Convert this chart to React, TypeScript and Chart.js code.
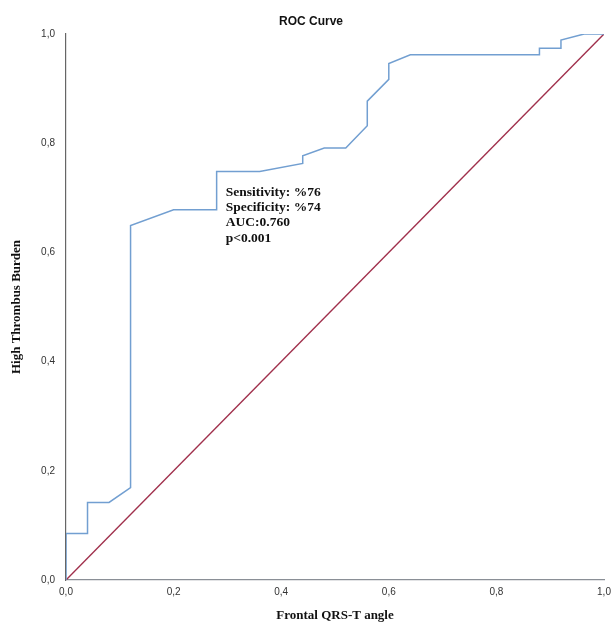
import React, { useEffect, useRef } from "react";
import { Chart, registerables } from "chart.js";

Chart.register(...registerables);

// ROC curve (1 - specificity, sensitivity)
const rocFpr = [0, 0, 0.04, 0.04, 0.08, 0.12, 0.12, 0.2, 0.28, 0.28, 0.36, 0.44, 0.44, 0.48, 0.52, 0.56, 0.56, 0.6, 0.6, 0.64, 0.88, 0.88, 0.92, 0.92, 0.963, 1.0];
const rocTpr = [0, 0.085, 0.085, 0.142, 0.142, 0.169, 0.649, 0.678, 0.678, 0.748, 0.748, 0.763, 0.777, 0.791, 0.791, 0.832, 0.877, 0.917, 0.946, 0.962, 0.962, 0.974, 0.974, 0.989, 1.0, 1.0];

// Reference line
const refX = [0, 1];
const refY = [0, 1];

const tickValues = [0, 0.2, 0.4, 0.6, 0.8, 1.0];
const tickLabels = ["0,0", "0,2", "0,4", "0,6", "0,8", "1,0"];

const annotationLines = ["Sensitivity: %76", "Specificity: %74", "AUC:0.760", "p<0.001"];
const annotationAnchor = { x: 0.297, y: 0.71 };

const chartTitle = "ROC Curve";
const xTitle = "Frontal QRS-T angle";
const yTitle = "High Thrombus Burden";

function fmtTick(v: number) {
  const i = tickValues.findIndex((t) => Math.abs(t - v) < 1e-6);
  return i >= 0 ? tickLabels[i] : "";
}

const overlayPlugin = {
  id: "overlay",
  afterDatasetsDraw(chart: any) {
    const { ctx, chartArea, scales } = chart;
    ctx.save();
    // title
    ctx.fillStyle = "#111";
    ctx.font = "bold 12px 'Liberation Sans', Arial, sans-serif";
    ctx.textAlign = "center";
    ctx.textBaseline = "middle";
    ctx.fillText(chartTitle, (chartArea.left + chartArea.right) / 2 - 24, 22);
    // annotation
    ctx.font = "bold 13.5px 'Liberation Serif', 'Times New Roman', serif";
    ctx.textAlign = "left";
    const x0 = scales.x.getPixelForValue(annotationAnchor.x);
    const y0 = scales.y.getPixelForValue(annotationAnchor.y);
    annotationLines.forEach((line, i) => {
      ctx.fillText(line, x0, y0 + i * 15.3);
    });
    ctx.restore();
  },
};

export default function App() {
  const ref = useRef<HTMLCanvasElement>(null);
  useEffect(() => {
    document.body.style.margin = "0";
    const canvas = ref.current!;
    const chart = new Chart(canvas, {
      type: "scatter",
      data: {
        datasets: [
          {
            label: "ROC",
            data: rocFpr.map((x, i) => ({ x, y: rocTpr[i] })),
            showLine: true,
            borderColor: "#729fd1",
            borderWidth: 1.5,
            pointRadius: 0,
            tension: 0,
            order: 1,
          },
          {
            label: "Reference",
            data: refX.map((x, i) => ({ x, y: refY[i] })),
            showLine: true,
            borderColor: "#a0304c",
            borderWidth: 1.4,
            pointRadius: 0,
            order: 2,
          },
        ],
      },
      options: {
        responsive: false,
        animation: false,
        layout: { padding: { top: 34, right: 8, left: 0, bottom: 0 } },
        plugins: {
          legend: { display: false },
          tooltip: { enabled: false },
          title: { display: false },
        },
        scales: {
          x: {
            type: "linear",
            min: 0,
            max: 1,
            afterFit: (s: any) => {
              s.height = 44;
              s.paddingRight = 0;
              s.paddingLeft = 0;
            },
            afterBuildTicks: (s: any) => {
              s.ticks = tickValues.map((v) => ({ value: v }));
            },
            grid: { display: false, drawTicks: false },
            border: { display: true, color: "#8a8f96", width: 1.2 },
            ticks: {
              padding: 6,
              color: "#333",
              font: { family: "'Liberation Sans', Arial, sans-serif", size: 10 },
              maxRotation: 0,
              callback: (v: any) => fmtTick(Number(v)),
            },
            title: {
              display: true,
              text: xTitle,
              color: "#111",
              font: { family: "'Liberation Serif', 'Times New Roman', serif", size: 13, weight: "bold" },
              padding: { top: 0, bottom: 1 },
            },
          },
          y: {
            type: "linear",
            min: 0,
            max: 1,
            afterFit: (s: any) => {
              s.width = 66;
              s.paddingTop = 0;
              s.paddingBottom = 0;
            },
            afterBuildTicks: (s: any) => {
              s.ticks = tickValues.map((v) => ({ value: v }));
            },
            grid: { display: false, drawTicks: false },
            border: { display: true, color: "#666", width: 1.2 },
            ticks: {
              padding: 11,
              color: "#333",
              font: { family: "'Liberation Sans', Arial, sans-serif", size: 10 },
              callback: (v: any) => fmtTick(Number(v)),
            },
            title: {
              display: true,
              text: yTitle,
              color: "#111",
              font: { family: "'Liberation Serif', 'Times New Roman', serif", size: 13, weight: "bold" },
              padding: { top: 9, bottom: 0 },
            },
          },
        },
      },
      plugins: [overlayPlugin],
    });
    return () => chart.destroy();
  }, []);
  return <canvas ref={ref} width={612} height={624} style={{ display: "block" }} />;
}
